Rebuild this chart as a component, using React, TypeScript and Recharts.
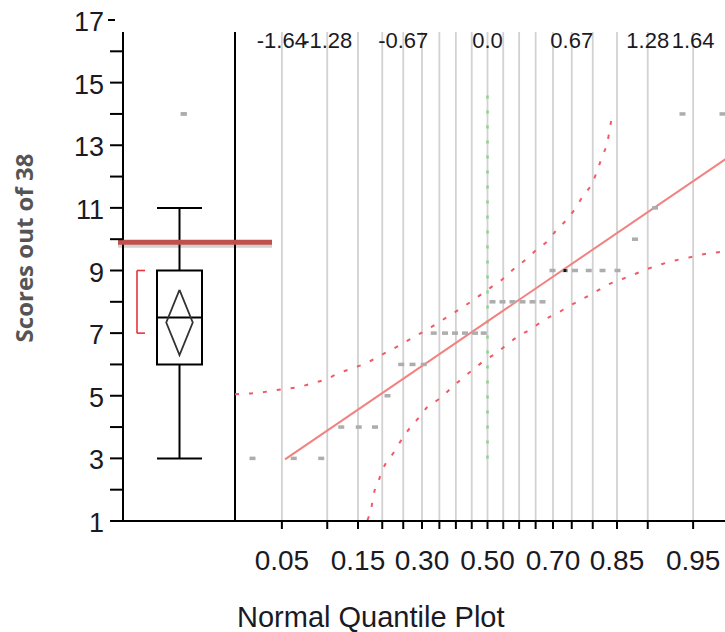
import { ComposedChart, Line, Scatter, XAxis, YAxis, ReferenceLine, ReferenceArea } from "recharts";

// y axis: scores
const scoreTicks = [1, 2, 3, 4, 5, 6, 7, 8, 9, 10, 11, 12, 13, 14, 15, 16, 17];

// normal quantile grid (probabilities 0.05 .. 0.95 and their z positions)
const gridZ = [-1.645, -1.282, -1.036, -0.842, -0.674, -0.524, -0.385, -0.253, -0.126, 0, 0.126, 0.253, 0.385, 0.524, 0.674, 0.842, 1.036, 1.282, 1.645];
const gridProb = ["0.05", "0.10", "0.15", "0.20", "0.25", "0.30", "0.35", "0.40", "0.45", "0.50", "0.55", "0.60", "0.65", "0.70", "0.75", "0.80", "0.85", "0.90", "0.95"];
const shownProb = ["0.05", "0.15", "0.30", "0.50", "0.70", "0.85", "0.95"];
const topZ = [-1.645, -1.282, -0.674, 0, 0.674, 1.282, 1.645];
const topLabels = ["-1.64", "-1.28", "-0.67", "0.0", "0.67", "1.28", "1.64"];

// observations, sorted, with their normal quantile positions
const scores = [3, 3, 3, 4, 4, 4, 5, 6, 6, 6, 7, 7, 7, 7, 7, 7, 8, 8, 8, 8, 8, 8, 9, 9, 9, 9, 9, 9, 10, 11, 14, 14];
const quantiles = [-1.88, -1.55, -1.33, -1.17, -1.03, -0.9, -0.8, -0.69, -0.6, -0.51, -0.43, -0.34, -0.26, -0.18, -0.1, -0.03, 0.04, 0.12, 0.2, 0.28, 0.36, 0.44, 0.52, 0.62, 0.7, 0.81, 0.92, 1.04, 1.18, 1.34, 1.56, 1.88];
const selectedIndex = 23;

// fitted normal line and confidence bands
const fitZ = [-1.62, 2.42];
const fitV = [2.97, 13.96];
const upperZ = [-2.02, -1.87, -1.75, -1.64, -1.52, -1.4, -1.29, -1.19, -1.08, -0.97, -0.87, -0.76, -0.66, -0.56, -0.45, -0.36, -0.26, -0.16, -0.07, 0.03, 0.12, 0.21, 0.3, 0.39, 0.48, 0.56, 0.64, 0.71, 0.77, 0.84, 0.88, 0.92, 0.96, 0.98, 1.0];
const upperV = [5.05, 5.08, 5.14, 5.21, 5.27, 5.4, 5.53, 5.72, 5.88, 6.04, 6.26, 6.49, 6.71, 6.94, 7.19, 7.42, 7.67, 7.93, 8.18, 8.47, 8.72, 9.05, 9.33, 9.65, 9.94, 10.33, 10.65, 11.03, 11.42, 11.8, 12.22, 12.66, 13.11, 13.56, 14.04];
const lowerZ = [-0.96, -0.93, -0.91, -0.87, -0.83, -0.76, -0.7, -0.64, -0.56, -0.48, -0.39, -0.3, -0.21, -0.12, -0.03, 0.07, 0.16, 0.25, 0.36, 0.45, 0.56, 0.65, 0.76, 0.86, 0.96, 1.08, 1.18, 1.28, 1.4, 1.51, 1.63, 1.74, 1.86, 2.0];
const lowerV = [1.03, 1.41, 1.86, 2.3, 2.72, 3.13, 3.52, 3.87, 4.25, 4.64, 4.89, 5.21, 5.53, 5.82, 6.11, 6.36, 6.65, 6.91, 7.16, 7.42, 7.64, 7.86, 8.09, 8.31, 8.54, 8.73, 8.89, 9.05, 9.21, 9.33, 9.43, 9.53, 9.59, 9.66];
const medianRef = [3.0, 14.76];

// box plot summary
const q1 = 6;
const median = 7.5;
const q3 = 9;
const whiskerLow = 3;
const whiskerHigh = 11;
const mean = 7.34;
const ciLow = 6.3;
const ciHigh = 8.38;
const shortestHalf = [7, 9];
const outliers = [14, 14];
const cutScore = 9.9;

// layout (x in z units)
const Z_MIN = -2.916;
const Z_MAX = 2.18;
const FRAME_TOP = 16.62;
const DIVIDER = -2.02;
const BOX_Z = -2.464;
const BOX_HALF = 0.18;
const DIAMOND_HALF = 0.106;
const BRACKET_Z = -2.804;
const BRACKET_TAB = -2.74;
const OUTLIER_Z = -2.43;
const CUT_FROM = -2.956;
const CUT_TO = -1.724;

const FONT = "'Liberation Sans', Arial, sans-serif";
const INK = "#1a1a24";

const points = scores.map((v, i) => ({ z: quantiles[i], v, sel: i === selectedIndex }));
const outlierPts = outliers.map((v) => ({ z: OUTLIER_Z, v, sel: false }));
const fitData = fitZ.map((z, i) => ({ z, v: fitV[i] }));
const upperData = upperZ.map((z, i) => ({ z, v: upperV[i] }));
const lowerData = lowerZ.map((z, i) => ({ z, v: lowerV[i] }));
const diamond = [
  { z: BOX_Z, v: ciHigh },
  { z: BOX_Z + DIAMOND_HALF, v: mean },
  { z: BOX_Z, v: ciLow },
  { z: BOX_Z - DIAMOND_HALF, v: mean },
  { z: BOX_Z, v: ciHigh },
];

function Dash(props: any) {
  const { cx, cy, payload } = props;
  return (
    <g>
      <rect x={cx - 3} y={cy - 1.75} width={6} height={3.5} fill="#adadad" />
      {payload?.sel && <rect x={cx - 1.5} y={cy - 1.5} width={3} height={3} fill="#111" />}
    </g>
  );
}

function YTick(props: any) {
  const { y, payload } = props;
  const v = payload.value;
  const top = v === 17;
  return (
    <g>
      <line x1={top ? 108 : 110} x2={top ? 115 : 123} y1={y} y2={y} stroke="#000" strokeWidth={2} />
      {v % 2 === 1 && (
        <text x={104} y={y + 11} textAnchor="end" fontSize={27} fontFamily={FONT} fill={INK}>
          {v}
        </text>
      )}
    </g>
  );
}

function BottomTick(props: any) {
  const { x, payload } = props;
  const label = gridProb[gridZ.indexOf(payload.value)];
  return (
    <g>
      <line x1={x} x2={x} y1={521} y2={529} stroke="#000" strokeWidth={2} />
      {shownProb.includes(label) && (
        <text x={x} y={570} textAnchor="middle" fontSize={28} fontFamily={FONT} fill={INK}>
          {label}
        </text>
      )}
    </g>
  );
}

function TopTick(props: any) {
  const { x, payload } = props;
  const label = topLabels[topZ.indexOf(payload.value)];
  return (
    <text x={x} y={48} textAnchor="middle" fontSize={22} fontFamily={FONT} fill={INK}>
      {label}
    </text>
  );
}

export default function App() {
  const seg = (z1: number, v1: number, z2: number, v2: number, stroke: string, w: number, key: string, extra: any = {}) => (
    <ReferenceLine
      key={key}
      segment={[{ x: z1, y: v1 }, { x: z2, y: v2 }]}
      stroke={stroke}
      strokeWidth={w}
      ifOverflow="visible"
      {...extra}
    />
  );

  return (
    <div style={{ position: "absolute", left: 0, top: 0, width: 725, height: 632, overflow: "hidden", background: "#fff" }}>
      <ComposedChart width={760} height={632} margin={{ top: 18, right: 0, bottom: 0, left: 0 }}>
        <XAxis
          type="number"
          dataKey="z"
          domain={[Z_MIN, Z_MAX]}
          allowDataOverflow
          ticks={gridZ}
          interval={0}
          height={111}
          axisLine={{ stroke: "#000", strokeWidth: 2 }}
          tickLine={false}
          tick={<BottomTick />}
          label={{
            value: "Normal Quantile Plot",
            content: () => (
              <text x={237} y={627} fontSize={29} fontFamily={FONT} fill={INK}>
                Normal Quantile Plot
              </text>
            ),
          }}
        />
        <XAxis
          xAxisId="top"
          orientation="top"
          type="number"
          dataKey="z"
          domain={[Z_MIN, Z_MAX]}
          allowDataOverflow
          ticks={topZ}
          interval={0}
          height={2}
          axisLine={false}
          tickLine={false}
          tick={<TopTick />}
        />
        <YAxis
          type="number"
          dataKey="v"
          domain={[1, 17]}
          ticks={scoreTicks}
          interval={0}
          width={123}
          axisLine={false}
          tickLine={false}
          tick={<YTick />}
          label={{
            value: "Scores out of 38",
            content: () => (
              <text
                x={33}
                y={248}
                transform="rotate(-90 33 248)"
                textAnchor="middle"
                fontSize={24}
                fontWeight={700}
                fontFamily="'Open Sans', sans-serif"
                fill="#555"
              >
                Scores out of 38
              </text>
            ),
          }}
        />

        {gridZ.map((z, i) => seg(z, 1, z, FRAME_TOP, "#d2d2d2", 1.8, "g" + i))}
        {seg(0, medianRef[0], 0, medianRef[1], "#8fcf8f", 2.5, "green", { strokeDasharray: "3 12" })}

        {seg(Z_MIN, 1, Z_MIN, FRAME_TOP, "#000", 2, "yaxis")}
        {seg(DIVIDER, 1, DIVIDER, FRAME_TOP, "#000", 2, "divider")}

        <ReferenceArea x1={BOX_Z - BOX_HALF} x2={BOX_Z + BOX_HALF} y1={q1} y2={q3} fill="none" stroke="#000" strokeWidth={2} ifOverflow="visible" />
        {seg(BOX_Z - BOX_HALF, median, BOX_Z + BOX_HALF, median, "#000", 2, "med")}
        {seg(BOX_Z, q3, BOX_Z, whiskerHigh, "#000", 2, "wh")}
        {seg(BOX_Z - BOX_HALF, whiskerHigh, BOX_Z + BOX_HALF, whiskerHigh, "#000", 2, "whc")}
        {seg(BOX_Z, whiskerLow, BOX_Z, q1, "#000", 2, "wl")}
        {seg(BOX_Z - BOX_HALF, whiskerLow, BOX_Z + BOX_HALF, whiskerLow, "#000", 2, "wlc")}
        {seg(BRACKET_Z, shortestHalf[0], BRACKET_Z, shortestHalf[1], "#e8323c", 1.6, "br")}
        {seg(BRACKET_Z, shortestHalf[0], BRACKET_TAB, shortestHalf[0], "#e8323c", 1.6, "brb")}
        {seg(BRACKET_Z, shortestHalf[1], BRACKET_TAB, shortestHalf[1], "#e8323c", 1.6, "brt")}

        <Line data={diamond} dataKey="v" stroke="#333" strokeWidth={1.8} dot={false} type="linear" isAnimationActive={false} />

        <Line data={upperData} dataKey="v" stroke="#ef5a66" strokeWidth={2} strokeDasharray="4 10" dot={false} type="monotone" isAnimationActive={false} />
        <Line data={lowerData} dataKey="v" stroke="#ef5a66" strokeWidth={2} strokeDasharray="4 10" dot={false} type="monotone" isAnimationActive={false} />
        <Line data={fitData} dataKey="v" stroke="#f28282" strokeWidth={2} dot={false} type="linear" isAnimationActive={false} />

        <Scatter data={points} dataKey="v" shape={<Dash />} isAnimationActive={false} />
        <Scatter data={outlierPts} dataKey="v" shape={<Dash />} isAnimationActive={false} />

        {seg(CUT_FROM, cutScore - 0.08, CUT_TO, cutScore - 0.08, "rgba(0,0,0,0.18)", 6, "shadow")}
        {seg(CUT_FROM, cutScore, CUT_TO, cutScore, "#c0504d", 5, "cut")}
      </ComposedChart>
    </div>
  );
}
